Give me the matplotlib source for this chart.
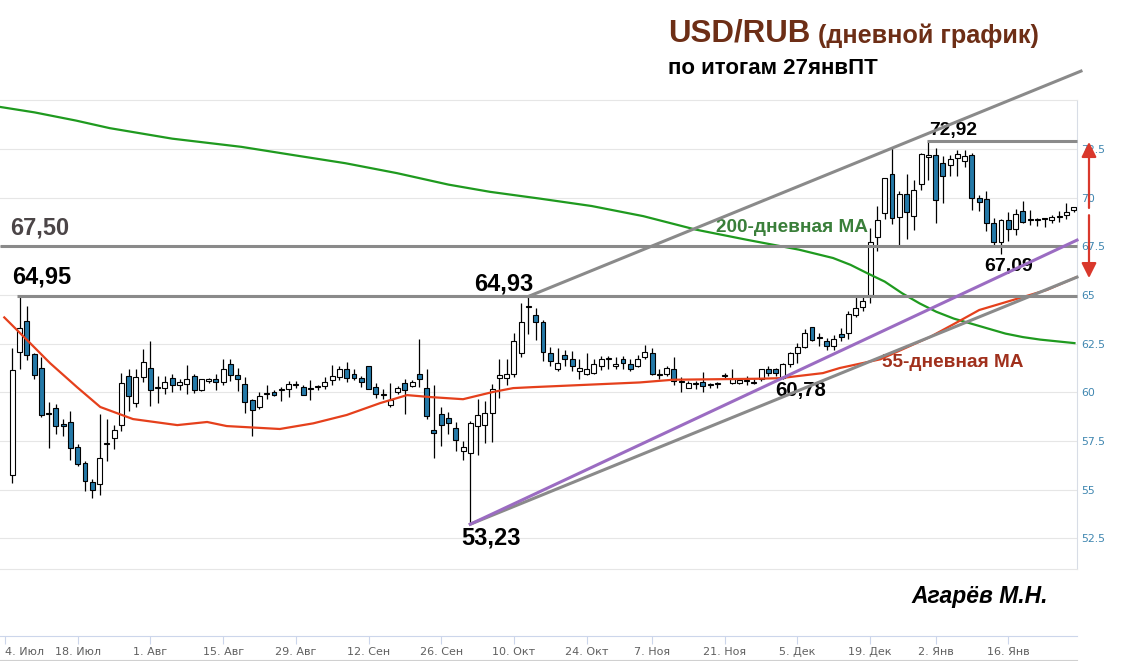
import matplotlib
matplotlib.use("Agg")
import matplotlib.pyplot as plt
from matplotlib.lines import Line2D

# ---------------- data ----------------
opens = [55.75, 62.08, 63.67, 61.97, 61.26, 58.93, 59.18, 58.38, 58.47, 57.19,
         56.35, 55.38, 55.30, 57.33, 57.67, 58.30, 60.84, 59.48, 60.81, 61.26,
         60.25, 60.20, 60.75, 60.36, 60.45, 60.84, 60.11, 60.57, 60.67, 60.55,
         61.47, 60.91, 60.45, 59.62, 59.23, 59.90, 60.03, 60.10, 60.16, 60.38,
         60.30, 60.19, 60.29, 60.33, 60.65, 60.79, 61.18, 60.96, 60.72, 61.38,
         60.30, 59.86, 59.33, 60.00, 60.50, 60.33, 60.96, 60.20, 58.08, 58.89,
         58.67, 58.18, 56.97, 56.89, 58.26, 58.35, 58.92, 60.75, 60.72, 60.96,
         62.03, 64.38, 63.97, 63.60, 62.03, 61.18, 61.91, 61.72, 61.09, 60.96,
         61.01, 61.38, 61.71, 61.35, 61.69, 61.47, 61.35, 61.81, 62.00, 60.91,
         60.96, 61.18, 60.54, 60.25, 60.42, 60.55, 60.37, 60.42, 60.83, 60.50,
         60.48, 60.58, 60.49, 60.70, 61.21, 61.18, 60.75, 61.45, 62.00, 62.33,
         63.38, 62.78, 62.62, 62.40, 62.99, 63.07, 63.98, 64.40, 65.00, 67.97,
         69.21, 71.23, 68.99, 70.19, 69.04, 70.70, 72.10, 72.20, 71.77, 71.69,
         72.03, 71.86, 72.20, 69.98, 69.93, 68.70, 67.73, 68.84, 68.40, 69.33,
         68.88, 68.87, 68.91, 68.87, 69.03, 69.13, 69.38]
highs = [62.28, 64.95, 64.43, 62.00, 61.82, 59.53, 59.40, 58.64, 59.03, 57.36,
         56.47, 55.55, 58.89, 58.64, 58.30, 60.97, 61.18, 61.21, 62.23, 62.65,
         60.84, 60.84, 60.96, 60.70, 61.43, 60.92, 60.70, 60.75, 60.92, 61.69,
         61.69, 61.26, 60.79, 59.65, 60.03, 60.36, 60.10, 60.30, 60.58, 60.58,
         60.36, 60.62, 60.40, 60.79, 61.43, 61.38, 61.55, 61.21, 60.84, 61.38,
         60.46, 60.16, 60.46, 60.33, 60.67, 60.62, 62.74, 61.21, 60.36, 59.26,
         58.97, 58.47, 57.48, 58.55, 59.65, 59.57, 60.42, 61.69, 61.69, 63.04,
         64.60, 64.93, 64.35, 63.72, 62.31, 62.28, 62.19, 62.14, 61.69, 62.00,
         61.69, 61.89, 61.89, 61.81, 61.86, 61.72, 61.94, 62.45, 62.28, 61.18,
         61.38, 61.82, 60.80, 60.58, 60.60, 61.06, 60.50, 60.55, 61.00, 61.18,
         60.75, 60.84, 60.67, 61.21, 61.38, 61.26, 61.50, 62.07, 62.53, 63.25,
         63.38, 63.04, 62.79, 62.96, 63.33, 64.18, 64.95, 64.95, 68.45, 69.59,
         71.00, 72.59, 70.32, 71.21, 70.92, 72.29, 72.92, 72.54, 72.12, 72.20,
         72.46, 72.46, 72.29, 70.15, 70.36, 68.96, 68.91, 69.25, 69.42, 69.85,
         69.35, 68.96, 68.93, 69.13, 69.33, 69.73, 69.52]
lows = [55.33, 61.21, 61.64, 60.70, 58.75, 57.16, 57.87, 57.74, 56.52, 56.21,
        54.91, 54.60, 54.74, 56.47, 57.08, 58.04, 59.03, 59.23, 60.55, 59.32,
        59.48, 59.91, 60.03, 60.11, 59.94, 59.99, 60.08, 60.50, 60.13, 60.36,
        60.58, 60.08, 58.92, 57.75, 59.14, 59.65, 59.80, 59.57, 59.78, 60.25,
        59.87, 59.60, 60.10, 60.16, 60.36, 60.62, 60.55, 60.62, 60.30, 60.16,
        59.70, 59.65, 59.26, 59.90, 58.88, 60.28, 60.30, 58.62, 56.65, 57.23,
        57.87, 56.97, 56.55, 53.23, 56.77, 57.42, 57.45, 59.69, 60.36, 60.79,
        61.80, 62.99, 62.70, 61.60, 61.35, 61.09, 61.35, 61.09, 60.70, 60.87,
        60.96, 61.14, 61.18, 61.18, 61.21, 61.09, 61.30, 61.69, 60.87, 60.67,
        60.84, 60.36, 60.04, 60.20, 60.16, 60.04, 60.25, 60.20, 60.67, 60.45,
        60.42, 60.36, 60.45, 60.58, 60.84, 60.84, 60.67, 61.30, 61.52, 62.28,
        62.62, 62.36, 62.20, 62.20, 62.65, 62.76, 63.87, 64.18, 64.60, 67.25,
        68.90, 68.65, 67.50, 67.88, 68.36, 70.41, 70.92, 68.70, 69.73, 71.09,
        71.09, 71.57, 69.35, 69.30, 68.28, 67.51, 67.09, 67.76, 68.07, 68.70,
        68.62, 68.53, 68.48, 68.70, 68.75, 68.91, 69.27]
closes = [61.13, 63.30, 61.91, 60.89, 58.84, 58.90, 58.26, 58.26, 57.14, 56.31,
          55.47, 54.99, 56.64, 57.35, 58.09, 60.50, 59.82, 60.81, 61.57, 60.13,
          60.27, 60.55, 60.36, 60.53, 60.70, 60.13, 60.67, 60.67, 60.55, 61.21,
          60.87, 60.70, 59.53, 59.09, 59.82, 59.92, 59.86, 60.12, 60.45, 60.45,
          59.87, 60.21, 60.31, 60.53, 60.84, 61.21, 60.75, 60.72, 60.55, 60.19,
          59.91, 59.88, 59.60, 60.20, 60.13, 60.55, 60.67, 58.79, 57.90, 58.35,
          58.43, 57.53, 57.19, 58.42, 58.84, 58.92, 60.16, 60.89, 60.96, 62.62,
          63.60, 64.40, 63.60, 62.08, 61.60, 61.52, 61.72, 61.38, 61.26, 61.18,
          61.47, 61.74, 61.73, 61.47, 61.49, 61.21, 61.74, 62.07, 60.96, 60.93,
          61.26, 60.58, 60.56, 60.50, 60.44, 60.33, 60.45, 60.44, 60.85, 60.67,
          60.65, 60.62, 60.51, 61.21, 61.01, 60.97, 61.47, 62.00, 62.31, 63.04,
          62.67, 62.80, 62.40, 62.76, 62.82, 64.01, 64.35, 64.68, 67.71, 68.87,
          71.00, 68.96, 70.19, 69.27, 70.38, 72.24, 72.18, 69.90, 71.09, 72.00,
          72.24, 72.15, 69.98, 69.78, 68.70, 67.73, 68.84, 68.41, 69.16, 68.75,
          68.86, 68.85, 68.89, 69.00, 69.05, 69.27, 69.50]

# x-axis date ticks (trading-day index) and labels
tick_pos = [-1, 9, 19, 29, 39, 49, 59, 69, 79, 88, 98, 108, 118, 127, 137]
tick_labels = ["4. Июл", "18. Июл", "1. Авг", "15. Авг", "29. Авг", "12. Сен",
               "26. Сен", "10. Окт", "24. Окт", "7. Ноя", "21. Ноя", "5. Дек",
               "19. Дек", "2. Янв", "16. Янв"]
y_ticks = [52.5, 55, 57.5, 60, 62.5, 65, 67.5, 70, 72.5]

# moving averages (index, value)
ma55_x = [-1.1, 2.0, 5.2, 8.9, 12.1, 16.6, 22.7, 26.8, 29.5, 36.8, 41.4, 46, 50.6,
          54.3, 57.5, 62.0, 66.1, 68.9, 71.6, 75.3, 86.3, 90.9, 102.4, 105.6,
          111.5, 113.8, 119.4, 126.2, 130, 133, 137.6, 142.3, 146.4]
ma55_y = [63.85, 62.7, 61.5, 60.27, 59.25, 58.63, 58.32, 58.48, 58.27, 58.12,
          58.41, 58.84, 59.45, 59.86, 59.76, 59.65, 60.02, 60.22, 60.27, 60.33,
          60.51, 60.65, 60.7, 60.73, 60.99, 61.25, 61.7, 62.84, 63.61, 64.23,
          64.74, 65.26, 65.92]
ma200_x = [-1.69, 3.05, 8.75, 13.4, 22.0, 31.5, 38.6, 45.8, 52.9, 60.0, 65.7, 72.6,
           79.7, 86.8, 94.0, 101.0, 108.2, 112.9, 115.3, 117.6, 120.0, 122.4,
           124.8, 127.1, 129.5, 131.9, 134.2, 136.6, 139.0, 141.4, 146.1]
ma200_y = [74.66, 74.38, 73.96, 73.57, 73.03, 72.61, 72.19, 71.77, 71.26, 70.67,
           70.30, 69.95, 69.57, 69.05, 68.36, 67.84, 67.33, 66.9, 66.55, 66.12,
           65.69, 65.09, 64.57, 64.14, 63.79, 63.53, 63.28, 63.02, 62.84, 62.71,
           62.53]

# drawn levels and channel lines: (x0, x1), (y0, y1)
level_6750 = ((-1.7, 146.45), (67.50, 67.50))
level_6495 = ((0.6, 146.45), (64.95, 64.95))
level_7292 = ((125.8, 146.45), (72.92, 72.92))
upper_channel = ((71, 147.0), (64.93, 76.5))
lower_channel = ((63, 146.45), (53.23, 65.92))
purple_channel = ((63, 146.45), (53.23, 67.82))

# ---------------- figure ----------------
W, H = 1121, 661
fig = plt.figure(figsize=(W / 100, H / 100), dpi=100)
fig.patch.set_facecolor("white")

ax_left, ax_right = 0.0, 1077 / W
ax_top, ax_bot = 1 - 100.3 / H, 1 - 569 / H
ax = fig.add_axes([ax_left, ax_bot, ax_right - ax_left, ax_top - ax_bot])
ax.set_xlim(-1.69, 146.45)
ax.set_ylim(50.93, 75.0)

ax.spines["left"].set_visible(False)
ax.spines["top"].set_color("#e6e6e6")
ax.spines["bottom"].set_color("#e6e6e6")
ax.spines["right"].set_color("#d8dde6")
for s in ["top", "bottom", "right"]:
    ax.spines[s].set_linewidth(0.8)

ax.set_yticks(y_ticks)
ax.set_yticklabels([f"{v:g}" for v in y_ticks])
ax.yaxis.tick_right()
ax.tick_params(axis="y", length=0, pad=3, labelsize=7.8, labelcolor="#3f86b0")
ax.set_xticks([])
ax.grid(axis="y", color="#e6e6e6", linewidth=0.8, zorder=0)
ax.set_axisbelow(True)

# candles
n = len(opens)
idx = list(range(n))
up = [c >= o for o, c in zip(opens, closes)]
ax.vlines(idx, lows, highs, color="black", linewidth=0.9, zorder=2)
bottoms = [min(o, c) for o, c in zip(opens, closes)]
heights = [max(abs(c - o), 0.05) for o, c in zip(opens, closes)]
colors = ["white" if u else "#2479a8" for u in up]
ax.bar(idx, heights, bottom=bottoms, width=0.68, color=colors,
       edgecolor="black", linewidth=0.8, zorder=3)

# moving averages
ax.plot(ma200_x, ma200_y, color="#1f9a1f", linewidth=1.6, zorder=4)
ax.plot(ma55_x, ma55_y, color="#e5401c", linewidth=1.6, zorder=4)

# levels and channels
grey = "#8a8a8a"
for (xs, ys) in [level_6750, level_6495, level_7292]:
    ax.plot(xs, ys, color=grey, linewidth=2.2, zorder=5, clip_on=False,
            solid_capstyle="butt")
ax.plot(*upper_channel, color=grey, linewidth=2.2, zorder=5, clip_on=False)
ax.plot(*lower_channel, color=grey, linewidth=2.2, zorder=5, clip_on=False)
ax.plot(*purple_channel, color="#9b6cc2", linewidth=2.2, zorder=5, clip_on=False)

# red double arrow (with a small gap)
ax_x = 148.1
ap = dict(arrowstyle="-|>,head_length=0.9,head_width=0.45", color="#d9382c",
          linewidth=1.6, shrinkA=0, shrinkB=0)
ax.annotate("", xy=(ax_x, 72.86), xytext=(ax_x, 69.47), arrowprops=ap,
            annotation_clip=False)
ax.annotate("", xy=(ax_x, 65.87), xytext=(ax_x, 69.1), arrowprops=ap,
            annotation_clip=False)

# value labels
bold = dict(family="Liberation Sans", weight="bold")
ax.text(-0.32, 68.44, "67,50", color="#4b4547", fontsize=17, ha="left",
        va="center", **bold)
ax.text(-0.04, 65.92, "64,95", color="black", fontsize=17, ha="left",
        va="center", **bold)
ax.text(67.6, 65.56, "64,93", color="black", fontsize=17, ha="center",
        va="center", **bold)
ax.text(65.8, 52.52, "53,23", color="black", fontsize=17, ha="center",
        va="center", clip_on=False, **bold)
ax.text(108.5, 60.12, "60,78", color="black", fontsize=14.7, ha="center",
        va="center", **bold)
ax.text(137.0, 66.49, "67,09", color="black", fontsize=14, ha="center",
        va="center", **bold)
ax.text(129.4, 73.47, "72,92", color="black", fontsize=13.8, ha="center",
        va="center", **bold)
ax.text(107.25, 68.49, "200-дневная МА", color="#3a7f3a", fontsize=13.7,
        ha="center", va="center", **bold)
ax.text(129.3, 61.56, "55-дневная МА", color="#a0301c", fontsize=13.7,
        ha="center", va="center", **bold)

# titles
def ftext(x, y, s, **kw):
    fig.text(x / W, 1 - y / H, s, **kw)

ftext(668, 33, "USD/RUB", color="#6d2e16", fontsize=22.5, ha="left",
      va="center", **bold)
ftext(818, 36, "(дневной график)", color="#6d2e16", fontsize=18.2, ha="left",
      va="center", **bold)
ftext(668, 68, "по итогам 27янвПТ", color="black", fontsize=16, ha="left",
      va="center", **bold)
ftext(980, 596, "Агарёв М.Н.", color="black", fontsize=16.5, ha="center",
      va="center", family="Liberation Sans", weight="bold", style="italic")

# date axis (separate strip at the bottom)
axd = fig.add_axes([ax_left, 1 - 636 / H, ax_right - ax_left, 0.0005])
axd.set_xlim(ax.get_xlim())
axd.set_yticks([])
for s in ["top", "left", "right"]:
    axd.spines[s].set_visible(False)
axd.spines["bottom"].set_color("#ccd6eb")
axd.spines["bottom"].set_linewidth(0.8)
axd.set_xticks(tick_pos)
axd.set_xticklabels(tick_labels)
axd.tick_params(axis="x", length=6, width=0.8, color="#ccd6eb", pad=2,
                labelsize=8, labelcolor="#606060")
axd.get_xticklabels()[0].set_horizontalalignment("left")
axd.patch.set_visible(False)

fig.add_artist(Line2D([0, ax_right], [1 - 660 / H, 1 - 660 / H],
                      color="#d0d0d0", linewidth=0.8))

fig.savefig("out.png", dpi=100)
